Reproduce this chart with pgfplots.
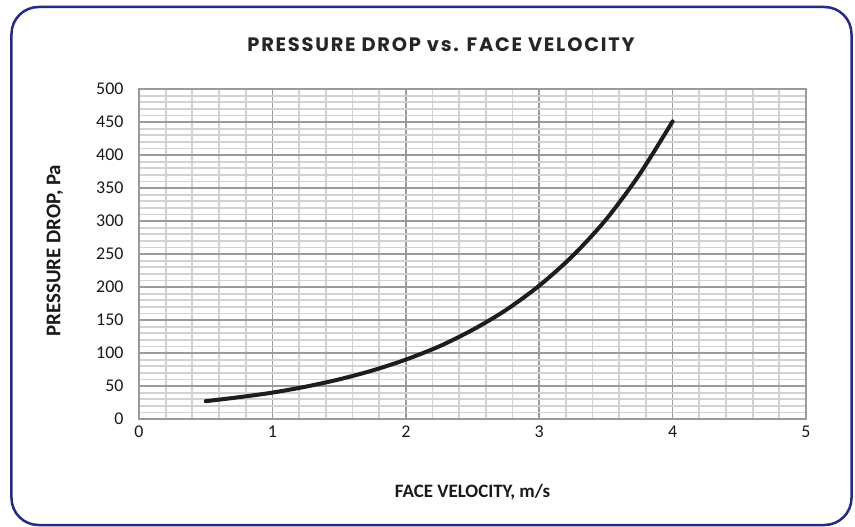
\documentclass[border=0pt]{standalone}
\usepackage{fontspec}
\setmainfont{Carlito}
\newfontfamily\titlefont{Poppins}[LetterSpace=9]
\usepackage{pgfplots}
\pgfplotsset{compat=1.18}
\definecolor{frame}{RGB}{40,42,130}
\definecolor{majgrid}{RGB}{155,155,155}
\definecolor{mingrid}{RGB}{210,210,210}
\definecolor{curve}{RGB}{30,28,28}
\begin{document}
\begin{tikzpicture}
\useasboundingbox (-139bp,-108bp) rectangle (716bp,419bp);
\draw[frame, line width=2.5bp, rounded corners=27bp] (-127.5bp,-106bp) rectangle (712.5bp,412bp);
\node[font=\titlefont\bfseries\fontsize{19.5}{22}\selectfont, text=black!85] at (302bp,374bp) {PRESSURE DROP vs. FACE VELOCITY};
\begin{axis}[
  at={(0,0)}, anchor=south west,
  scale only axis,
  width=667bp, height=330bp,
  xmin=0, xmax=5, ymin=0, ymax=500,
  xtick={0,1,2,3,4,5},
  ytick={0,50,...,500},
  minor x tick num=4,
  minor y tick num=4,
  major tick length=0pt, minor tick length=0pt,
  grid=both,
  major grid style={majgrid, line width=1.5bp},
  minor grid style={mingrid, line width=1.8bp},
  axis line style={majgrid, line width=1.8bp},
  /pgf/number format/assume math mode=true,
  ticklabel style={font=\fontsize{18}{21}\selectfont, text=black!90},
  xticklabel style={yshift=-3bp},
  yticklabel style={xshift=-12bp},
  xlabel={\bfseries FACE VELOCITY, m/s},
  ylabel={\bfseries PRESSURE DROP, Pa},
  label style={text=black!90},
  xlabel style={font=\fontsize{19}{22}\selectfont, at={(axis description cs:0.5,-0.2212)}, anchor=center},
  ylabel style={font=\fontsize{21}{24}\selectfont, at={(axis description cs:-0.126,0.51)}, anchor=center, rotate=0},
]
\addplot[curve, line width=4bp, line cap=round, line join=round, smooth] coordinates {
  (0.50, 27)
  (0.75, 33)
  (1.00, 40)
  (1.25, 49)
  (1.50, 60)
  (1.75, 73.5)
  (2.00, 90)
  (2.25, 110)
  (2.50, 135)
  (2.75, 165)
  (3.00, 202)
  (3.25, 247)
  (3.50, 302)
  (3.75, 370)
  (4.00, 451)
};
\end{axis}
\end{tikzpicture}
\end{document}
